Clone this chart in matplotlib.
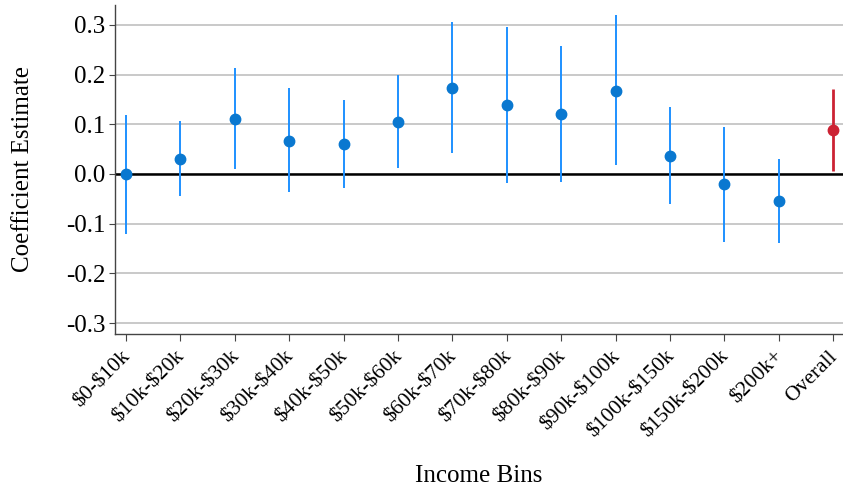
import matplotlib
matplotlib.use("Agg")
import matplotlib.pyplot as plt
import matplotlib.transforms as mtransforms
import numpy as np

categories = ["$0-$10k", "$10k-$20k", "$20k-$30k", "$30k-$40k", "$40k-$50k", "$50k-$60k",
              "$60k-$70k", "$70k-$80k", "$80k-$90k", "$90k-$100k", "$100k-$150k",
              "$150k-$200k", "$200k+", "Overall"]
estimates = [0.0, 0.030, 0.111, 0.066, 0.060, 0.105, 0.173, 0.139, 0.121, 0.167, 0.036, -0.020, -0.054, 0.088]
ci_low = [-0.121, -0.044, 0.010, -0.036, -0.028, 0.012, 0.042, -0.018, -0.016, 0.018, -0.060, -0.137, -0.139, 0.006]
ci_high = [0.119, 0.107, 0.213, 0.173, 0.149, 0.199, 0.306, 0.296, 0.258, 0.320, 0.135, 0.095, 0.030, 0.171]
yticks = [-0.3, -0.2, -0.1, 0.0, 0.1, 0.2, 0.3]

plt.rcParams['font.family'] = ['Liberation Serif', 'DejaVu Serif']
plt.rcParams['mathtext.default'] = 'regular'

fig = plt.figure(figsize=(8.43, 4.91), dpi=100)
ax = fig.add_axes([115/843, 1-334/491, (843-115)/843, (334-5)/491])

x = np.arange(len(categories))
for i in x:
    overall = categories[i] == "Overall"
    lc = "#cc2233" if overall else "#1e90ff"
    pc = "#cc2233" if overall else "#0a78d0"
    lw = 2.0 if overall else 1.4
    ax.plot([i, i], [ci_low[i], ci_high[i]], color=lc, lw=lw, zorder=3, solid_capstyle='butt')
    ax.plot(i, estimates[i], 'o', color=pc, ms=7.5, zorder=4)

ax.axhline(0, color="black", lw=1.8, zorder=2)
ax.set_ylim(-0.322, 0.34)
ax.set_xlim(-0.2, 13.18)
ax.set_yticks(yticks)
ax.set_yticklabels([f"{v:.1f}" for v in yticks])
ax.yaxis.grid(True, color="#bbbbbb", lw=1.1)
ax.set_axisbelow(True)
ax.set_xticks(x)
ax.set_xticklabels([c.replace("$", r"\$") for c in categories], rotation=45, ha="right",
                   va="center_baseline", rotation_mode="anchor", fontsize=15.5)
offset = mtransforms.ScaledTranslation(4/100, 0, fig.dpi_scale_trans)
for lab in ax.get_xticklabels():
    lab.set_transform(lab.get_transform() + offset)
ax.tick_params(axis='y', labelsize=18, length=4, color="#444444", pad=3)
ax.tick_params(axis='x', length=5, color="#444444", pad=8)
for s in ["top", "right"]:
    ax.spines[s].set_visible(False)
for s in ["left", "bottom"]:
    ax.spines[s].set_color("#444444")
    ax.spines[s].set_linewidth(1.0)
ax.set_ylabel("Coefficient Estimate", fontsize=18)
ax.yaxis.set_label_coords(-(115-23)/728, 0.5)
ax.set_xlabel("Income Bins", fontsize=18)
ax.xaxis.set_label_coords(0.5, -(476-334)/329)
ax.xaxis.label.set_va("center")
ax.yaxis.label.set_va("center")

fig.savefig("out.png", dpi=100)
